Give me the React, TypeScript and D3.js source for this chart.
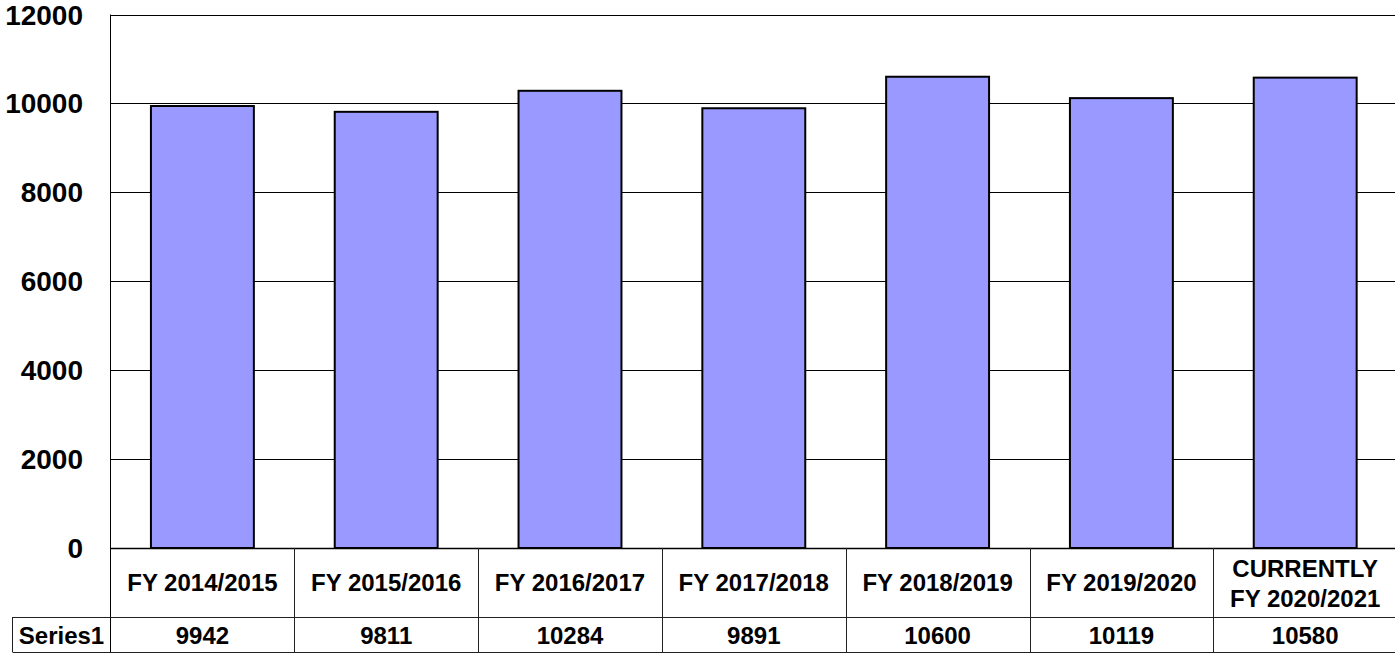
import React from "react";
import * as d3 from "d3";

const categories: string[][] = [
  ["FY 2014/2015"],
  ["FY 2015/2016"],
  ["FY 2016/2017"],
  ["FY 2017/2018"],
  ["FY 2018/2019"],
  ["FY 2019/2020"],
  ["CURRENTLY", "FY 2020/2021"],
];
const seriesName = "Series1";
const values: number[] = [9942, 9811, 10284, 9891, 10600, 10119, 10580];
const yTicks: number[] = [0, 2000, 4000, 6000, 8000, 10000, 12000];

const W = 1395;
const H = 653;
const left = 110.5;
const colW = 183.8;
const right = left + colW * categories.length;
const top = 14.5;
const bottom = 548;
const row1Bottom = 617;
const row2Bottom = 652;
const tableLeft = 12.5;
const font = "'Liberation Sans', Arial, sans-serif";

export default function App() {
  const x = d3
    .scaleBand<number>()
    .domain(categories.map((_, i) => i))
    .range([left, right])
    .paddingInner(0.44)
    .paddingOuter(0.22);
  const y = d3.scaleLinear().domain([0, 12000]).range([bottom, top]);

  return (
    <svg
      width={W}
      height={H}
      style={{ position: "absolute", left: 0, top: 0, background: "#fff" }}
      fontFamily={font}
      fontWeight="bold"
    >
      {yTicks.map((t) => (
        <line key={"g" + t} x1={left} x2={right} y1={Math.round(y(t)) + 0.5} y2={Math.round(y(t)) + 0.5} stroke="#000" strokeWidth={1} />
      ))}
      {yTicks.map((t) => (
        <text key={"t" + t} x={83} y={y(t) + 10} textAnchor="end" fontSize={28} fill="#000">
          {t}
        </text>
      ))}
      {values.map((v, i) => (
        <rect
          key={"b" + i}
          x={x(i)!}
          y={y(v)}
          width={x.bandwidth()}
          height={bottom - y(v)}
          fill="#9999FF"
          stroke="#000"
          strokeWidth={2}
        />
      ))}
      <line x1={left} x2={left} y1={top} y2={row2Bottom} stroke="#000" strokeWidth={1} />
      <line x1={left} x2={right} y1={bottom + 0.5} y2={bottom + 0.5} stroke="#000" strokeWidth={1.5} />
      <line x1={tableLeft} x2={right} y1={row1Bottom + 0.5} y2={row1Bottom + 0.5} stroke="#222" strokeWidth={1} />
      <line x1={tableLeft} x2={right} y1={row2Bottom + 0.5} y2={row2Bottom + 0.5} stroke="#222" strokeWidth={1} />
      <line x1={tableLeft} x2={tableLeft} y1={row1Bottom} y2={row2Bottom} stroke="#222" strokeWidth={1} />
      {categories.map((_, i) =>
        i > 0 ? (
          <line
            key={"d" + i}
            x1={Math.round(left + colW * i) + 0.5}
            x2={Math.round(left + colW * i) + 0.5}
            y1={bottom}
            y2={row2Bottom}
            stroke="#222"
            strokeWidth={1}
          />
        ) : null
      )}
      {categories.map((lines, i) => {
        const cx = left + colW * (i + 0.5);
        const baseY = lines.length === 1 ? 591 : 577;
        return (
          <text key={"c" + i} x={cx} textAnchor="middle" fontSize={24} fill="#000">
            {lines.map((l, j) => (
              <tspan key={j} x={cx} y={baseY + j * 30}>
                {l}
              </tspan>
            ))}
          </text>
        );
      })}
      <text x={(tableLeft + left) / 2} y={644} textAnchor="middle" fontSize={24} fill="#000">
        {seriesName}
      </text>
      {values.map((v, i) => (
        <text key={"v" + i} x={left + colW * (i + 0.5)} y={644} textAnchor="middle" fontSize={24} fill="#000">
          {v}
        </text>
      ))}
    </svg>
  );
}
